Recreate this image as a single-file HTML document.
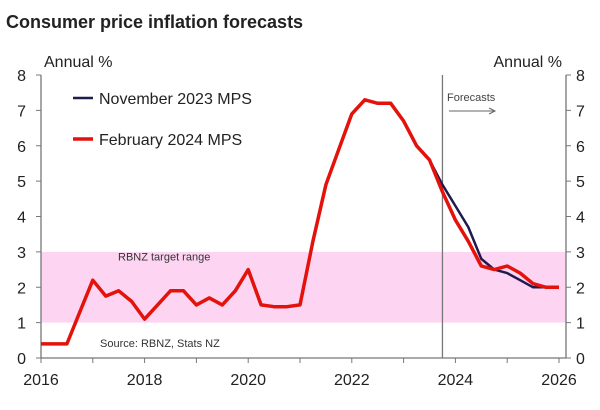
<!DOCTYPE html>
<html><head><meta charset="utf-8"><style>
body{margin:0;background:#fff;font-family:"Liberation Sans",sans-serif;}
svg text{font-family:"Liberation Sans",sans-serif;}
</style></head><body>
<svg id="c" width="600" height="405" xmlns="http://www.w3.org/2000/svg">
<text x="6" y="28" font-size="18" font-weight="bold" fill="#222">Consumer price inflation forecasts</text>
<g id="g"></g>
</svg>
<script>
const feb2024 = [0.4,0.4,0.4,1.3,2.2,1.75,1.9,1.6,1.1,1.5,1.9,1.9,1.5,1.7,1.5,1.9,2.5,1.5,1.45,1.45,1.5,3.3,4.9,5.9,6.9,7.3,7.2,7.2,6.7,6.0,5.6,4.7,3.9,3.3,2.6,2.5,2.6,2.4,2.1,2.0,2.0];
const febStart = 2016.0;
const nov2023 = [5.6,4.9,4.3,3.7,2.8,2.5,2.4,2.2,2.0,2.0];
const novStart = 2023.5;
const yTicks = [0,1,2,3,4,5,6,7,8];
const xLabels = [2016,2018,2020,2022,2024,2026];
const targetRange = [1,3];
const forecastStart = 2023.75;

const NS="http://www.w3.org/2000/svg", g=document.getElementById('g');
const X0=41,X1=559,Y0=358,Y1=75;
const xs=t=>X0+(t-2016)/10*(X1-X0);
const ys=v=>Y0-v/8*(Y0-Y1);
function mk(tag,a,parent){const e=document.createElementNS(NS,tag);for(const k in a)e.setAttribute(k,a[k]);(parent||g).appendChild(e);return e;}

let r=mk('rect',{x:X0,y:ys(targetRange[1]),width:566-X0,height:ys(targetRange[0])-ys(targetRange[1]),fill:'#fdd5f3'});


let t=mk('text',{x:118,y:ys(2.75),'font-size':11,fill:'#333'});t.textContent='RBNZ target range';


t=mk('text',{x:100,y:347,'font-size':11,fill:'#333'});t.textContent='Source: RBNZ, Stats NZ';



// axes
let a=mk('path',{d:`M${X0},${Y1}V${Y0}H566V${Y1}`,stroke:'#777',fill:'none','stroke-width':1.3});


yTicks.forEach(v=>{
  mk('line',{x1:X0-5,x2:X0,y1:ys(v),y2:ys(v),stroke:'#777'});
  mk('line',{x1:566,x2:571,y1:ys(v),y2:ys(v),stroke:'#777'});
  let l=mk('text',{x:26,y:ys(v)+6,'font-size':16,fill:'#222','text-anchor':'end'});l.textContent=v;
  
  
  l=mk('text',{x:576,y:ys(v)+6,'font-size':16,fill:'#222'});l.textContent=v;
  
  
});
for(let y=2016;y<=2026;y++)mk('line',{x1:xs(y),x2:xs(y),y1:Y0,y2:Y0+5,stroke:'#777'});
xLabels.forEach(y=>{let l=mk('text',{x:xs(y),y:385,'font-size':16,fill:'#222','text-anchor':'middle'});l.textContent=y;
  
  });
t=mk('text',{x:44,y:67,'font-size':16,fill:'#222'});t.textContent='Annual %';


t=mk('text',{x:562,y:67,'font-size':16,fill:'#222','text-anchor':'end'});t.textContent='Annual %';



// forecast marker
let f=mk('line',{x1:xs(forecastStart),x2:xs(forecastStart),y1:Y1,y2:Y0,stroke:'#777','stroke-width':1.3});


t=mk('text',{x:447,y:101,'font-size':11,fill:'#444'});t.textContent='Forecasts';


mk('path',{d:'M449,111H494M489,108L495,111L489,114',stroke:'#666',fill:'none'});

function line(vals,start,color,w,name){
  const d=vals.map((v,i)=>(i?'L':'M')+xs(start+i*0.25).toFixed(1)+','+ys(v).toFixed(1)).join('');
  const p=mk('path',{d,stroke:color,'stroke-width':w,fill:'none','stroke-linejoin':'round'});
  
  
}
line(nov2023,novStart,'#1e1b4d',2.5,'series-nov-2023');
line(feb2024,febStart,'#e3120b',3.5,'series-feb-2024');

// legend
mk('line',{x1:73,x2:93,y1:98,y2:98,stroke:'#1e1b4d','stroke-width':2.5});
t=mk('text',{x:99,y:104,'font-size':16,fill:'#222'});t.textContent='November 2023 MPS';


mk('line',{x1:73,x2:93,y1:139,y2:139,stroke:'#e3120b','stroke-width':3.5});
t=mk('text',{x:99,y:145,'font-size':16,fill:'#222'});t.textContent='February 2024 MPS';


</script>
</body></html>
